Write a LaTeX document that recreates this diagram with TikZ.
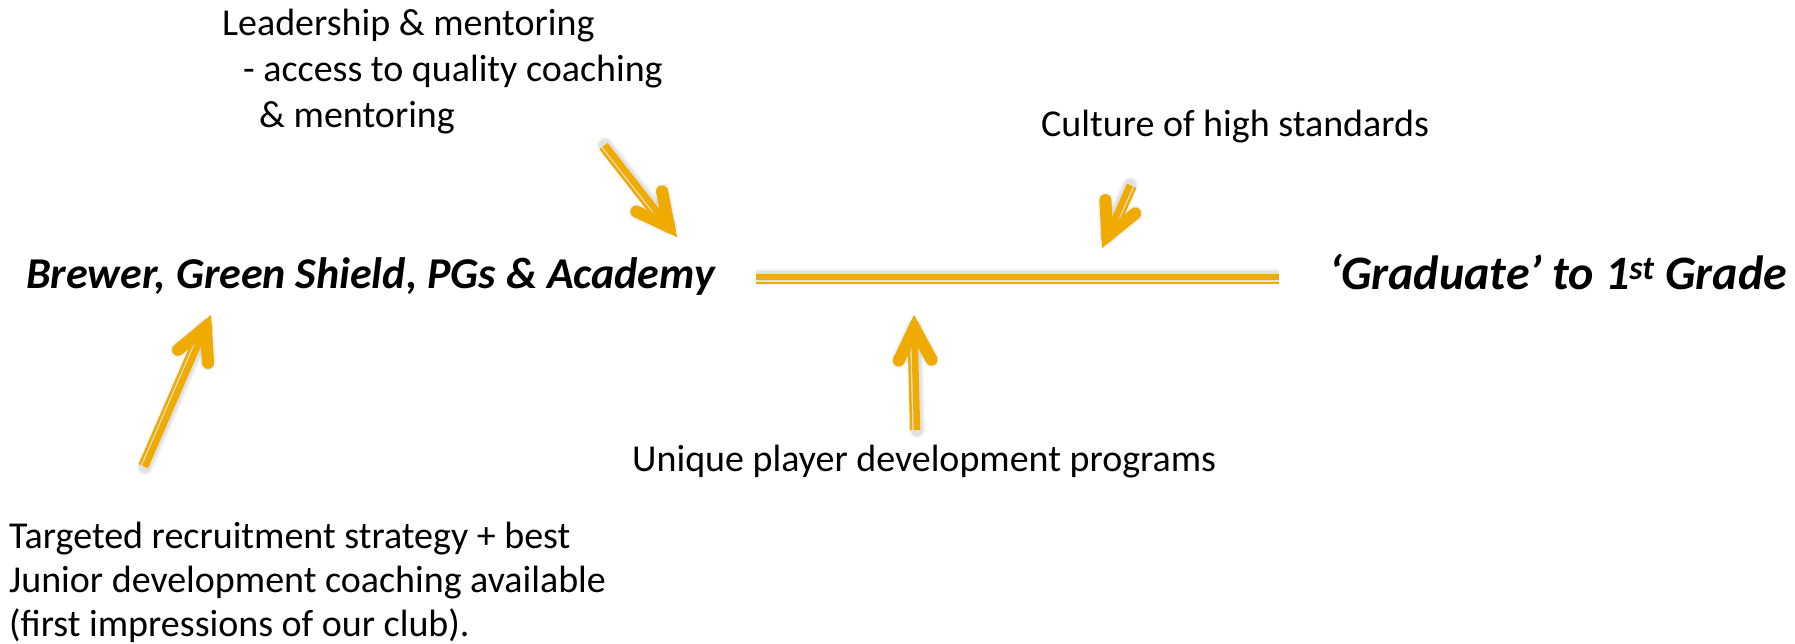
\documentclass[tikz,border=0pt]{standalone}
\usepackage{fontspec}
\setmainfont{Carlito}
\usetikzlibrary{calc}
\definecolor{gold}{HTML}{F0AB00}
\newcommand\goldarrow[3]{%
  % #1 start, #2 tip (extreme point), #3 side (+1/-1) of the thin stripe
  \coordinate (gv) at ($(#2)!13pt!(#1)$);
  \foreach \w/\o in {16/0.05,12/0.07}{
  \begin{scope}[shift={(3,5)},draw=black,opacity=\o]
    \draw[line width=\w pt,line cap=round] (gv) -- (#1);
    \draw[line width=\w pt,line cap=round,line join=round]
      ($(gv)!36pt!27:(#1)$) -- (gv) -- ($(gv)!36pt!-27:(#1)$);
  \end{scope}}
  \draw[shaftthick] (gv) -- (#1);
  \draw[shaftthin] ($($(#2)!30pt!(#1)$)!#3*5.8pt!90:(#1)$) -- ($(#1)!#3*5.8pt!-90:(#2)$);
  \draw[arrowhead] ($(gv)!36pt!27:(#1)$) -- (gv) -- ($(gv)!36pt!-27:(#1)$);
}
\begin{document}
\begin{tikzpicture}[x=1pt,y=-1pt,
  lbl/.style={font=\fontsize{38}{46}\selectfont, anchor=base west, inner sep=0pt},
  big/.style={font=\fontsize{44}{52}\selectfont\bfseries\itshape, anchor=base west, inner sep=0pt},
  bigger/.style={font=\fontsize{48}{56}\selectfont\bfseries\itshape, anchor=base west, inner sep=0pt},
  shaftthick/.style={draw=gold, line width=6.5pt},
  shaftthin/.style={draw=gold, line width=2.5pt},
  arrowhead/.style={draw=gold, line width=12pt, line cap=round, line join=miter, miter limit=10}]
\useasboundingbox (0,0) rectangle (1795,644);

% texts
\node[lbl] (lead1) at (222,36) {Leadership \& mentoring};
\node[lbl] (lead2) at (243,82) {- access to quality coaching};
\node[lbl] (lead3) at (259,128) {\& mentoring};
\node[lbl] (culture) at (1041,137) {Culture of high standards};
\node[big] (brewer) at (26,288) {Brewer, Green Shield, PGs \& Academy};
\node[bigger] (grad) at (1329,289) {‘Graduate’ to 1\textsuperscript{st} Grade};
\node[lbl] (unique) at (632,471) {Unique player development programs};
\node[lbl] (target1) at (9,548) {Targeted recruitment strategy + best};
\node[lbl] (target2) at (9,592) {Junior development coaching available};
\node[lbl] (target3) at (9,636) {(first impressions of our club).};

% horizontal line
\coordinate (lineL) at (756,276.8);
\coordinate (lineR) at (1279,276.8);
\foreach \w/\o in {16/0.05,12/0.07}{
\begin{scope}[shift={(2,6)},opacity=\o]
  \draw[line width=\w pt] (lineL) -- (lineR);
\end{scope}}
\draw[draw=gold, line width=6.4pt] (lineL) -- (lineR);
\draw[draw=gold, line width=2.3pt] ($(lineL)+(0,6.4)$) -- ($(lineR)+(0,6.4)$);

% arrows
\coordinate (a1s) at (605,145);
\coordinate (a1t) at (677,237);
\coordinate (a2s) at (1130,185);
\coordinate (a2t) at (1102,248);
\coordinate (a3s) at (145,467);
\coordinate (a3t) at (211,315);
\coordinate (a4s) at (917,430);
\coordinate (a4t) at (914,315);

\goldarrow{a1s}{a1t}{1}
\goldarrow{a2s}{a2t}{-1}
\goldarrow{a3s}{a3t}{-1}
\goldarrow{a4s}{a4t}{-1}
\end{tikzpicture}
\end{document}
